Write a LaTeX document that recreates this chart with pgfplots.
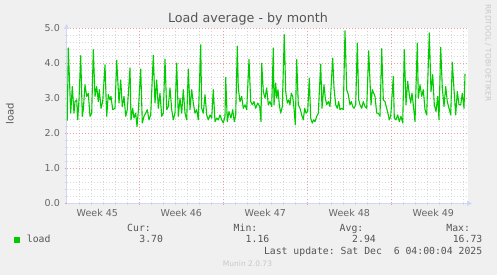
\documentclass[border=0pt]{standalone}
\usepackage{fontspec}
\setmainfont{DejaVu Sans}
\setmonofont{DejaVu Sans Mono}
\usepackage{pgfplots}
\pgfplotsset{compat=1.18}
\usetikzlibrary{arrows.meta}
\definecolor{bgcol}{HTML}{F0F0F0}
\definecolor{fontcol}{HTML}{666666}
\definecolor{legcol}{HTML}{555555}
\definecolor{axiscol}{HTML}{CFD6F8}
\definecolor{gridcol}{HTML}{D8D8D8}
\definecolor{mgridcol}{HTML}{E8A0A0}
\definecolor{loadcol}{HTML}{00CC00}
\definecolor{wmcol}{HTML}{C8C8C8}
\begin{document}
\begin{tikzpicture}[x=1bp,y=1bp]
\fill[bgcol] (0bp,0bp) rectangle (497bp,275bp);
\begin{axis}[
  at={(66.5bp,71.7bp)}, anchor=south west,
  scale only axis, width=401.5bp, height=175.3bp,
  xmin=66.5, xmax=468, ymin=0, ymax=5,
  axis background/.style={fill=white},
  axis x line*=bottom, axis y line*=left,
  axis line style={draw=axiscol, line width=1bp, -{Triangle[length=5bp,width=5bp]}, shorten >=-4bp},
  /pgf/number format/assume math mode=true,
  ticklabel style={font=\fontsize{9.5bp}{11bp}\selectfont, text=fontcol},
  xtick={139.3,223.3,307.3,391.3}, xticklabels={},
  minor xtick={79.3,91.3,103.3,115.3,127.3,151.3,163.3,175.3,187.3,199.3,211.3,235.3,247.3,259.3,271.3,283.3,295.3,319.3,331.3,343.3,355.3,367.3,379.3,403.3,415.3,427.3,439.3,451.3,463.3},
  ytick={0,1,2,3,4,5}, minor ytick={0.2,0.4,0.6,0.8,1.2,1.4,1.6,1.8,2.2,2.4,2.6,2.8,3.2,3.4,3.6,3.8,4.2,4.4,4.6,4.8},
  yticklabel style={/pgf/number format/.cd, fixed, fixed zerofill, precision=1, /tikz/.cd, anchor=east, inner sep=0pt, xshift=-4.5bp},
  tick align=outside, major tick length=2bp, minor tick length=2bp,
  major tick style={draw=mgridcol, line width=0.8bp},
  minor tick style={draw=gridcol, line width=0.8bp},
  grid=both,
  major grid style={draw=mgridcol, line width=0.8bp, dash pattern=on 1bp off 2bp},
  minor grid style={draw=gridcol, line width=0.8bp, dash pattern=on 1bp off 2bp},
  extra x ticks={97.3,181.3,265.3,349.3,433.3},
  extra x tick labels={Week 45,Week 46,Week 47,Week 48,Week 49},
  extra x tick style={grid=none, major tick length=0pt, xticklabel style={anchor=base, inner sep=0pt, yshift=-13.3bp}},
  clip=false,
]
\addplot[draw=loadcol, line width=1.1bp, line join=round] table {
x y
67.3 2.36
68.3 4.43
70.7 2.57
72.3 3.33
74.0 2.57
75.0 2.90
76.7 2.95
77.7 2.38
79.0 2.95
80.7 4.21
82.3 2.48
83.3 2.67
85.0 3.38
86.7 3.05
88.3 3.14
90.0 2.48
91.7 2.57
93.3 4.38
95.0 3.05
96.7 3.33
98.3 2.90
99.3 3.24
101.0 2.71
102.7 2.90
105.0 3.95
106.7 2.48
108.3 3.10
110.0 2.95
111.0 3.05
112.7 2.67
115.0 2.71
116.7 4.08
119.0 2.86
120.7 3.52
122.3 2.76
124.0 3.05
125.7 2.48
127.3 2.67
130.0 3.86
131.0 2.38
132.7 2.71
134.0 2.43
135.7 2.57
137.0 2.19
138.3 2.62
140.7 3.83
142.3 2.29
144.0 2.48
145.7 2.57
147.3 2.67
149.0 2.38
150.7 2.52
153.3 4.22
155.0 2.86
156.7 3.52
158.3 2.71
160.0 3.14
161.7 2.48
163.3 2.57
165.0 4.11
166.7 2.67
168.3 2.76
170.0 3.29
171.7 2.67
173.3 2.38
175.0 2.57
176.7 4.00
178.3 2.48
180.0 3.00
181.7 2.57
183.3 3.24
185.0 2.57
186.7 2.38
188.3 3.83
190.0 2.67
191.7 3.24
193.3 2.86
195.0 2.57
196.7 2.67
198.3 2.38
200.7 4.52
201.7 2.71
203.3 2.57
205.0 3.10
206.7 2.52
208.3 2.38
210.0 2.52
211.7 2.43
213.3 3.24
215.0 2.33
216.7 2.43
218.3 2.38
220.0 2.52
221.7 2.38
223.3 2.29
225.0 2.48
225.7 3.59
227.3 2.33
229.0 2.62
231.0 2.43
232.7 2.67
234.3 2.33
235.7 2.52
237.3 4.48
238.3 3.29
240.0 2.90
241.7 3.05
243.3 2.71
245.0 2.81
246.7 2.67
249.0 4.10
250.7 2.90
252.3 2.81
254.0 2.90
255.7 2.71
257.7 2.86
259.7 2.76
261.0 2.33
261.7 4.00
263.3 3.19
265.0 3.00
266.7 3.29
268.3 2.81
270.0 2.90
271.7 2.76
273.3 4.43
274.0 2.81
275.7 3.43
276.7 3.00
278.0 3.24
279.3 2.81
280.7 2.57
282.3 2.76
284.3 4.81
285.7 3.19
287.3 2.86
288.7 2.95
290.0 2.81
291.3 3.14
292.7 3.05
294.0 2.71
295.3 2.24
296.7 4.10
298.3 2.81
300.0 2.71
301.7 2.52
303.3 2.38
304.7 2.71
306.0 2.57
307.7 2.62
309.3 3.57
310.7 2.43
312.3 2.29
313.7 2.38
315.0 2.33
316.7 2.48
318.3 2.57
320.7 3.97
322.0 2.71
324.0 3.38
325.3 3.00
326.7 2.81
328.3 2.90
330.0 2.76
332.7 4.14
334.0 3.29
335.7 2.81
337.3 2.71
338.7 2.90
340.0 2.67
341.7 2.71
343.3 2.67
345.0 4.92
346.7 3.24
348.3 3.10
350.0 2.81
351.3 2.90
352.7 2.76
354.0 2.71
355.7 2.81
357.3 4.57
358.7 2.95
360.0 2.81
361.7 2.71
363.3 2.90
365.0 2.76
366.7 2.71
368.7 4.35
371.0 2.81
372.3 3.24
373.7 3.14
375.0 3.05
376.7 2.57
378.3 2.57
380.0 2.48
381.7 4.41
383.3 2.95
385.0 2.90
386.7 2.71
388.3 2.52
389.3 2.38
390.7 2.48
393.3 3.62
394.3 2.43
396.0 2.38
397.7 2.52
399.3 2.33
401.0 2.48
402.7 2.29
404.3 4.38
406.0 2.81
407.7 3.48
409.3 3.10
410.7 2.86
412.0 3.14
413.3 2.81
415.0 2.33
417.3 4.57
418.3 3.00
420.0 3.38
421.7 3.05
423.3 3.24
425.0 2.67
426.7 2.52
429.3 4.86
431.0 3.19
432.7 3.67
434.3 2.81
436.0 2.62
437.7 3.05
439.0 2.38
440.7 4.45
442.3 3.29
444.0 2.76
445.7 3.33
447.3 2.90
449.0 2.71
450.7 2.52
452.3 4.02
454.0 3.24
455.7 2.52
457.3 3.19
459.0 2.81
460.7 2.81
462.3 3.14
464.0 2.71
465.0 3.69
};
\end{axis}
% title
\node[anchor=base, inner sep=0pt, text=legcol, font=\fontsize{12.7bp}{15bp}\selectfont] at (248bp,252bp) {Load average - by month};
% y label
\node[rotate=90, anchor=center, inner sep=0pt, text=legcol, font=\fontsize{10bp}{12bp}\selectfont] at (10bp,161bp) {load};
% watermark
\node[rotate=-90, anchor=center, inner sep=0pt, text=wmcol, font=\fontsize{7.5bp}{9bp}\selectfont] at (488bp,222bp) {RRDTOOL / TOBI OETIKER};
% legend
\fill[loadcol] (14bp,32.3bp) rectangle (20bp,38.3bp);
\begin{scope}[every node/.style={inner sep=0pt, text=legcol, font=\ttfamily\fontsize{9.8bp}{12bp}\selectfont}]
\node[anchor=base west] at (26.7bp,32.3bp) {load};
\node[anchor=base east] at (151bp,43.3bp) {Cur:};
\node[anchor=base east] at (257.5bp,43.3bp) {Min:};
\node[anchor=base east] at (363.5bp,43.3bp) {Avg:};
\node[anchor=base east] at (470.2bp,43.3bp) {Max:};
\node[anchor=base east] at (163.2bp,32.3bp) {3.70};
\node[anchor=base east] at (269.5bp,32.3bp) {1.16};
\node[anchor=base east] at (376bp,32.3bp) {2.94};
\node[anchor=base east] at (482.5bp,32.3bp) {16.73};
\node[anchor=base east] at (482.5bp,21bp) {Last update: Sat Dec\ \ 6 04:00:04 2025};
\end{scope}
\node[anchor=base, inner sep=0pt, text=wmcol, font=\fontsize{7.5bp}{9bp}\selectfont] at (247.5bp,8.3bp) {Munin 2.0.73};
\pgfresetboundingbox
\path[use as bounding box] (0bp,0bp) rectangle (497bp,275bp);
\end{tikzpicture}
\end{document}
